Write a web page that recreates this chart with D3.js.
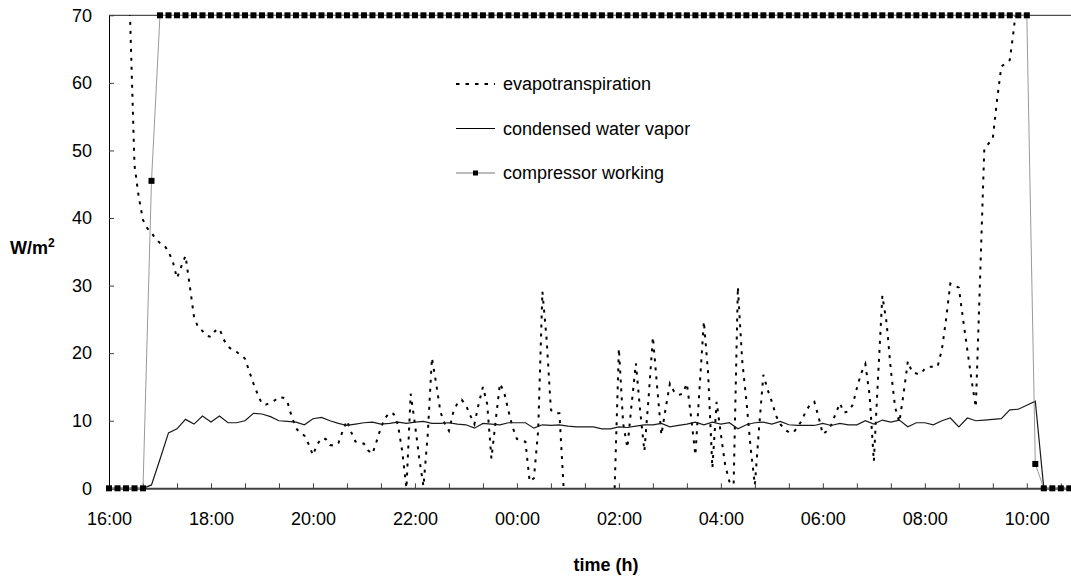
<!DOCTYPE html>
<html>
<head>
<meta charset="utf-8">
<script src="https://cdn.jsdelivr.net/npm/d3@7"></script>
<style>
    body { margin: 0; background: #fff; }
    svg text { font-family: "Liberation Sans", Arial, sans-serif; fill: #000; }
</style>
</head>
<body>
<div id="chart"></div>
<script>
// 10-minute series start at 16:00, evapotranspiration is logged every 5 minutes
const startTime = new Date(2000, 0, 1, 16, 0);
const endTime = new Date(2000, 0, 2, 10, 52);
const stepCondensed = 10;   // minutes
const stepEvap = 5;         // minutes

const seriesNames = ["evapotranspiration", "condensed water vapor", "compressor working"];
const yTickValues = [0, 10, 20, 30, 40, 50, 60, 70];

// W/m2, every 5 min (null = not logged / above scale before 16:20)
const evapotranspiration = [
    null, null, null, null, 85, 68.8, 47.8, 43.1, 39.7, 38.5, 37.8, 36.9, 36.3, 36.0, 35.0, 33.6, 31.1, 32.8, 34.4, 30.0,
    25.4, 23.8, 23.3, 22.6, 22.4, 23.3, 23.6, 22.0, 21.0, 20.5, 20.2, 19.7, 19.2, 17.3, 15.5, 13.9, 12.5, 12.4, 12.7, 13.0,
    13.5, 13.4, 12.8, 10.6, 8.9, 8.2, 7.8, 6.5, 4.9, 6.5, 7.4, 7.3, 6.4, 6.3, 6.7, 8.5, 10.0, 8.3, 6.9, 6.8,
    6.6, 5.6, 5.1, 7.0, 9.0, 10.4, 11.2, 11.0, 9.4, 5.5, 0, 14.0, 9.5, 4.5, 0.3, 7.8, 19.3, 15.5, 11.3, 9.6,
    8.5, 11.2, 12.6, 13.1, 12.3, 10.8, 9.5, 12.5, 15.0, 12.5, 4.4, 10.0, 15.5, 14.2, 11.5, 9.0, 7.3, 7.1, 6.9, 1.0,
    1.5, 8.5, 29.1, 22.0, 11.6, 11.1, 11.1, 0, null, null, null, null, null, null, null, null, null, null, null, 0,
    20.7, 9.6, 6.0, 12.5, 18.5, 11.5, 5.5, 13.5, 22.4, 15.0, 7.9, 11.8, 15.5, 14.3, 13.8, 14.0, 15.5, 10.5, 4.9, 15.0,
    24.7, 17.0, 3.0, 12.8, 8.0, 3.5, 1.0, 0.5, 29.8, 19.0, 13.0, 6.0, 0.5, 9.0, 16.8, 14.6, 12.8, 10.7, 9.5, 8.7,
    8.3, 8.2, 9.0, 10.0, 11.4, 12.4, 12.8, 10.5, 8.0, 8.5, 9.4, 11.0, 12.6, 11.2, 11.4, 12.3, 14.8, 17.0, 18.4, 13.8,
    4.0, 16.5, 28.5, 24.5, 17.5, 12.0, 9.8, 14.0, 18.8, 17.2, 17.0, 16.9, 17.7, 18.0, 18.0, 18.0, 20.5, 25.0, 30.3, 30.0,
    29.7, 25.0, 20.5, 16.0, 12.0, 31.0, 50.3, 51.0, 51.8, 57.5, 62.4, 62.9, 63.4, 68.2, 75
];

// W/m2, every 10 min
const condensedVapor = [
    0, 0, 0, 0, 0, 0.5, 4.3, 8.2, 8.8, 10.2, 9.5, 10.7, 9.8, 10.7, 9.7, 9.7, 10.0, 11.1, 11.0, 10.6,
    10.0, 9.9, 9.8, 9.4, 10.3, 10.5, 10.0, 9.6, 9.3, 9.5, 9.7, 9.8, 9.5, 9.6, 9.8, 9.6, 9.8, 9.9, 9.6, 9.6,
    9.7, 9.5, 9.4, 8.9, 9.6, 9.5, 9.4, 9.7, 9.7, 9.7, 8.9, 9.4, 9.3, 9.4, 9.2, 9.1, 9.1, 9.1, 8.8, 8.8,
    9.1, 9.0, 9.2, 9.4, 9.4, 9.6, 9.1, 9.3, 9.5, 9.8, 9.4, 9.8, 9.5, 9.7, 8.8, 9.4, 9.7, 9.8, 9.5, 9.9,
    9.4, 9.3, 9.3, 9.3, 9.6, 9.3, 9.6, 9.4, 9.4, 10.0, 9.5, 10.1, 9.8, 10.1, 9.1, 9.7, 9.7, 9.4, 10.0, 10.4,
    9.1, 10.4, 10.0, 10.1, 10.2, 10.3, 11.6, 11.7, 12.3, 12.9, 0, 0, 0, 0
];

// on/off indicator drawn on the W/m2 scale, every 10 min
const compressorWorking = [
    0, 0, 0, 0, 0, 45.5, 70, 70, 70, 70, 70, 70, 70, 70, 70, 70, 70, 70, 70, 70,
    70, 70, 70, 70, 70, 70, 70, 70, 70, 70, 70, 70, 70, 70, 70, 70, 70, 70, 70, 70,
    70, 70, 70, 70, 70, 70, 70, 70, 70, 70, 70, 70, 70, 70, 70, 70, 70, 70, 70, 70,
    70, 70, 70, 70, 70, 70, 70, 70, 70, 70, 70, 70, 70, 70, 70, 70, 70, 70, 70, 70,
    70, 70, 70, 70, 70, 70, 70, 70, 70, 70, 70, 70, 70, 70, 70, 70, 70, 70, 70, 70,
    70, 70, 70, 70, 70, 70, 70, 70, 70, 3.6, 0, 0, 0, 0
];

const W = 1071, H = 579;
const plot = {left: 109, right: 1071, top: 15.3, bottom: 488.3};

const toSeries = (values, step) => values.map((v, i) => ({
    t: new Date(+startTime + i * step * 60000),
    v: v
}));

const evapData = toSeries(evapotranspiration, stepEvap);
const condensedData = toSeries(condensedVapor, stepCondensed);
const compressorData = toSeries(compressorWorking, stepCondensed);

const svg = d3.select("#chart").append("svg")
    .attr("width", W)
    .attr("height", H);

// Scales
const x = d3.scaleTime()
    .domain([startTime, endTime])
    .range([plot.left, plot.right]);
const y = d3.scaleLinear()
    .domain([0, 70])
    .range([plot.bottom, plot.top]);

svg.append("defs").append("clipPath")
    .attr("id", "plot-clip")
    .append("rect")
    .attr("x", plot.left)
    .attr("y", plot.top)
    .attr("width", plot.right - plot.left)
    .attr("height", plot.bottom - plot.top);

// plot area top border
svg.append("line")
    .attr("x1", plot.left).attr("x2", plot.right)
    .attr("y1", plot.top).attr("y2", plot.top)
    .attr("stroke", "#222")
    .attr("stroke-width", 1);

const line = d3.line()
    .defined(d => d.v !== null)
    .x(d => x(d.t))
    .y(d => y(d.v));

// evapotranspiration (dashed)
svg.append("path")
    .datum(evapData)
    .attr("clip-path", "url(#plot-clip)")
    .attr("fill", "none")
    .attr("stroke", "#000")
    .attr("stroke-width", 2)
    .attr("stroke-dasharray", "3,6")
    .attr("d", line);

// Axes
const fmt = d3.timeFormat("%H:%M");
const xTicks = d3.range(0, 29).map(k => new Date(+startTime + k * 40 * 60000));
const xAxis = d3.axisBottom(x)
    .tickValues(xTicks)
    .tickSizeInner(-5)
    .tickSizeOuter(0)
    .tickPadding(24)
    .tickFormat(d => ((d - startTime) / 60000) % 120 === 0 ? fmt(d) : "");
const yAxis = d3.axisLeft(y)
    .tickValues(yTickValues)
    .tickSizeInner(-5)
    .tickSizeOuter(0)
    .tickPadding(17);

const xAxisGroup = svg.append("g")
    .attr("transform", "translate(0," + plot.bottom + ")")
    .call(xAxis);
xAxisGroup.select(".domain").attr("stroke", "#404040").attr("stroke-width", 2);
xAxisGroup.selectAll(".tick line").attr("stroke", "#404040");

const yAxisGroup = svg.append("g")
    .attr("transform", "translate(" + plot.left + ",0)")
    .call(yAxis);
yAxisGroup.select(".domain").attr("stroke", "#000");
yAxisGroup.selectAll(".tick line").attr("stroke", "#404040");

svg.selectAll(".tick text")
    .attr("font-family", "Liberation Sans, Arial, sans-serif")
    .attr("font-size", 18)
    .attr("fill", "#000");

// condensed water vapor
svg.append("path")
    .datum(condensedData)
    .attr("fill", "none")
    .attr("stroke", "#1a1a1a")
    .attr("stroke-width", 1.2)
    .attr("d", line);

// compressor working
svg.append("path")
    .datum(compressorData)
    .attr("fill", "none")
    .attr("stroke", "#999")
    .attr("stroke-width", 1)
    .attr("d", line);

svg.append("g").selectAll("rect")
    .data(compressorData)
    .join("rect")
    .attr("x", d => x(d.t) - 3)
    .attr("y", d => y(d.v) - 3)
    .attr("width", 6)
    .attr("height", 6)
    .attr("fill", "#000");

// Legend
const legend = svg.append("g").attr("transform", "translate(456,84)");
const rowGap = 44.5;
const rows = legend.selectAll("g")
    .data(seriesNames)
    .join("g")
    .attr("transform", (d, i) => "translate(0," + i * rowGap + ")");

rows.append("line")
    .attr("x1", 0).attr("x2", 39)
    .attr("y1", 0).attr("y2", 0)
    .attr("stroke", (d, i) => i === 2 ? "#777" : "#000")
    .attr("stroke-width", (d, i) => i === 0 ? 2 : 1)
    .attr("stroke-dasharray", (d, i) => i === 0 ? "3.5,6" : null);

rows.filter((d, i) => i === 2).append("rect")
    .attr("x", 17).attr("y", -2.5)
    .attr("width", 5).attr("height", 5)
    .attr("fill", "#000");

rows.append("text")
    .attr("x", 47)
    .attr("y", 6)
    .attr("font-size", 18)
    .text(d => d);

// Axis titles
const yTitle = svg.append("text")
    .attr("x", 10)
    .attr("y", 254)
    .attr("font-size", 18)
    .attr("font-weight", "bold")
    .text("W/m");
yTitle.append("tspan")
    .attr("dy", -7)
    .attr("font-size", 12)
    .text("2");

svg.append("text")
    .attr("x", 606)
    .attr("y", 571)
    .attr("text-anchor", "middle")
    .attr("font-size", 18)
    .attr("font-weight", "bold")
    .text("time (h)");
</script>
</body>
</html>
